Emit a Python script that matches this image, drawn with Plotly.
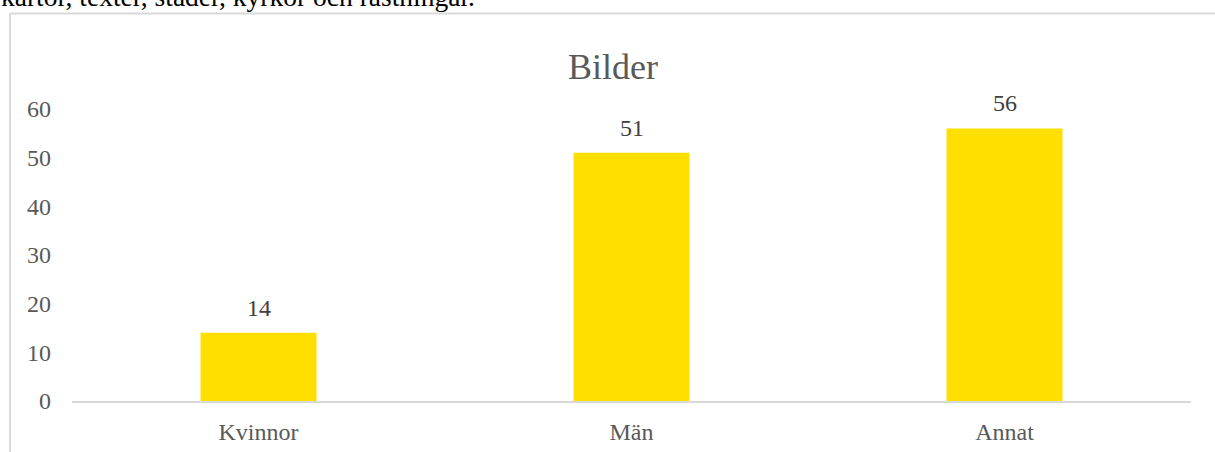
import plotly.graph_objects as go

categories = ["Kvinnor", "Män", "Annat"]
values = [14, 51, 56]
y_ticks = [0, 10, 20, 30, 40, 50, 60]
intro_text = "kartor, texter, städer, kyrkor och rastningar."

W, H = 1215, 452
ML, MR, MT, MB = 72, 24, 109, 51
PW, PH = W - ML - MR, H - MT - MB

def px_x(x):
    # pixel -> paper x
    return (x - ML) / PW

def px_y(y):
    # pixel (from top) -> paper y
    return (H - MB - y) / PH

serif = "Liberation Serif, Times New Roman, serif"

fig = go.Figure()
fig.add_trace(go.Bar(
    x=categories,
    y=values,
    marker=dict(color="#FFDF00", line=dict(width=0)),
    hoverinfo="x+y",
))

# data labels above bars
for cat, val in zip(categories, values):
    fig.add_annotation(
        x=cat, y=val, text=str(val), showarrow=False,
        yanchor="middle", yshift=25,
        font=dict(family=serif, size=24, color="#404040"),
    )

# cut-off line of body text above the chart
fig.add_annotation(
    x=px_x(-1), y=px_y(14), xref="paper", yref="paper",
    text=intro_text, showarrow=False, xanchor="left", yanchor="bottom",
    font=dict(family=serif, size=27.5, color="#000000"),
)

# chart frame (left and top edges)
frame = dict(color="#D9D9D9", width=2)
fig.add_shape(type="line", xref="paper", yref="paper",
              x0=px_x(10), x1=px_x(10), y0=px_y(13.5), y1=px_y(H + 10), line=frame)
fig.add_shape(type="line", xref="paper", yref="paper",
              x0=px_x(10), x1=px_x(W + 10), y0=px_y(13.5), y1=px_y(13.5), line=frame)

fig.update_layout(
    width=W, height=H,
    margin=dict(l=ML, r=MR, t=MT, b=MB, autoexpand=False),
    paper_bgcolor="white", plot_bgcolor="white",
    title=dict(text="Bilder", x=613 / W, xanchor="center", xref="container",
               y=1 - 66 / H, yanchor="middle", yref="container",
               font=dict(family=serif, size=36, color="#595959")),
    bargap=0.689,
    showlegend=False,
    font=dict(family=serif, size=24, color="#595959"),
    xaxis=dict(showline=True, linecolor="#D9D9D9", linewidth=1.5,
               showgrid=False, ticks="", ticklabelstandoff=8, automargin=False,
               tickfont=dict(family=serif, size=24, color="#595959")),
    yaxis=dict(range=[0, 60], tickvals=y_ticks, showgrid=False,
               zeroline=False, showline=False, ticks="", ticklabelstandoff=20,
               automargin=False,
               tickfont=dict(family=serif, size=24, color="#595959")),
)

# drop the default body margin so the figure fills the window from its corner
fig.write_html("out.html", config={"displayModeBar": False},
               post_script="document.body.style.margin = '0';")
